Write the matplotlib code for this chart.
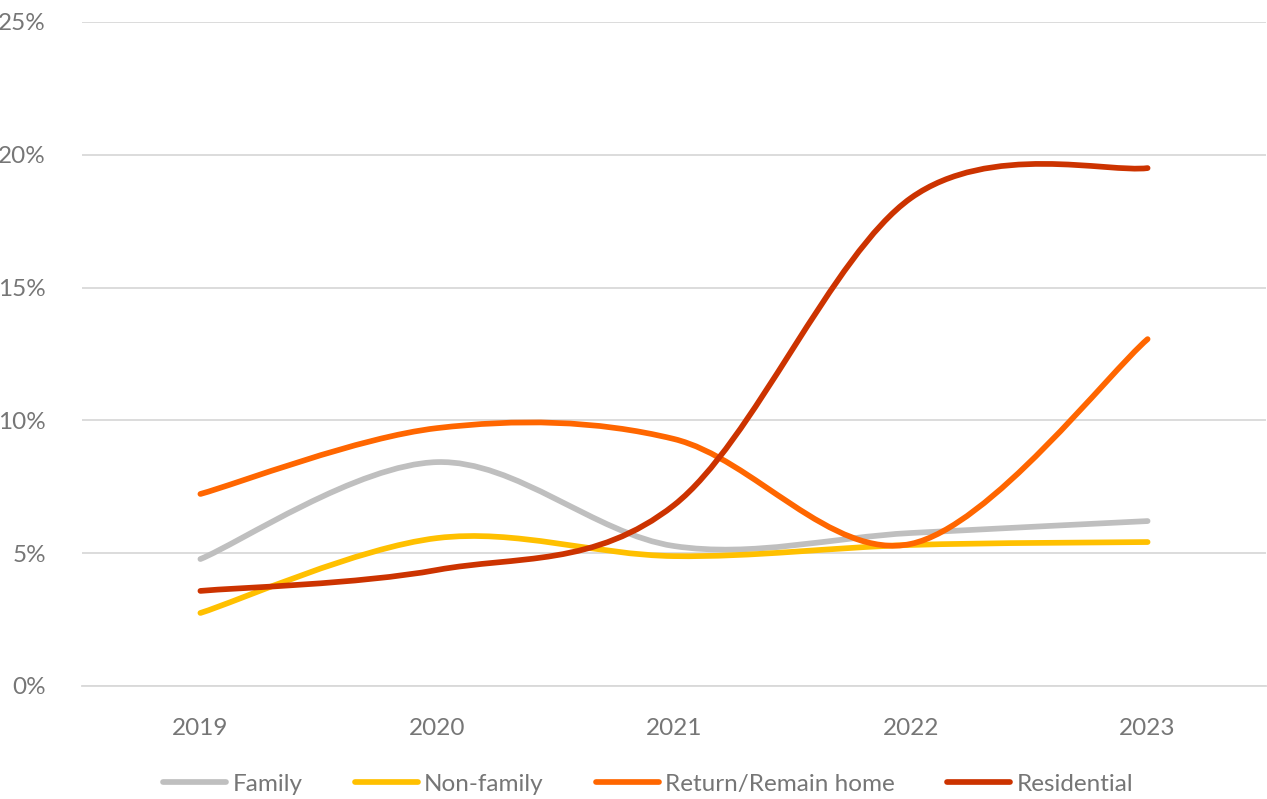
import numpy as np
import matplotlib.pyplot as plt
from matplotlib.path import Path
from matplotlib.patches import PathPatch
from matplotlib.lines import Line2D
from matplotlib.ticker import PercentFormatter

years = [2019, 2020, 2021, 2022, 2023]
family = [4.78, 8.43, 5.27, 5.76, 6.21]
non_family = [2.75, 5.57, 4.89, 5.31, 5.42]
return_home = [7.23, 9.71, 9.30, 5.35, 13.06]
residential = [3.58, 4.37, 6.81, 18.37, 19.50]

series = [
    ("Family", family, "#bfbfbf"),
    ("Non-family", non_family, "#ffc000"),
    ("Return/Remain home", return_home, "#ff6600"),
    ("Residential", residential, "#cc3300"),
]

plt.rcParams['font.family'] = ['Lato', 'DejaVu Sans']
text_col = "#767676"
fs = 17.5


def smooth_path(xs, ys):
    # excel-like smoothed line: cubic bezier through points (catmull-rom tangents)
    p = np.column_stack([xs, ys]).astype(float)
    n = len(p)
    verts = [p[0]]
    codes = [Path.MOVETO]
    for i in range(n - 1):
        prev = p[i - 1] if i > 0 else p[i]
        nxt = p[i + 2] if i + 2 < n else p[i + 1]
        c1 = p[i] + (p[i + 1] - prev) / 6
        c2 = p[i + 1] - (nxt - p[i]) / 6
        verts += [c1, c2, p[i + 1]]
        codes += [Path.CURVE4] * 3
    return Path(verts, codes)


fig = plt.figure(figsize=(12.67, 7.99), dpi=100)
ax = fig.add_axes([82 / 1267, 1 - 686 / 799, (1266 - 82) / 1267, (686 - 22) / 799])

for name, vals, col in series:
    patch = PathPatch(smooth_path(years, vals), facecolor="none", edgecolor=col,
                      lw=4.1, capstyle="round", joinstyle="round", zorder=3)
    ax.add_patch(patch)

ax.set_xlim(2018.5, 2023.5)
ax.set_ylim(0, 25)
ax.set_yticks([0, 5, 10, 15, 20, 25])
ax.yaxis.set_major_formatter(PercentFormatter(decimals=0))
ax.set_xticks(years)
ax.grid(axis="y", color="#d9d9d9", lw=1.3)
ax.set_axisbelow(True)
for s in ["top", "right", "left"]:
    ax.spines[s].set_visible(False)
ax.spines["bottom"].set_color("#d9d9d9")
ax.spines["bottom"].set_linewidth(1.3)
ax.tick_params(length=0, labelsize=fs, labelcolor=text_col)
ax.tick_params(axis="y", pad=26)
ax.tick_params(axis="x", pad=23)

handles = [Line2D([], [], color=c, lw=4.1, solid_capstyle="round") for _, _, c in series]
fig.legend(handles, [n for n, _, _ in series], loc="center", bbox_to_anchor=(648 / 1267, 1 - 784 / 799),
           ncol=4, frameon=False, fontsize=fs, labelcolor=text_col,
           handlelength=2.6, handletextpad=0.25, columnspacing=2.15)

fig.savefig("out.png", dpi=100)
